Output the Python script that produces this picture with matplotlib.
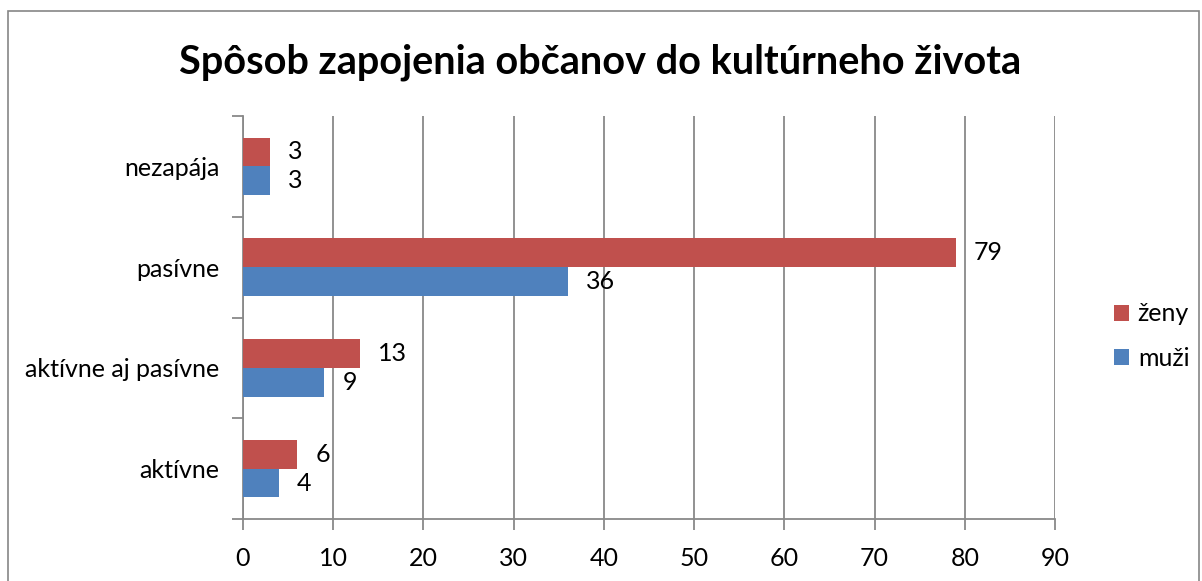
import numpy as np
import matplotlib.pyplot as plt
from matplotlib.patches import Rectangle

plt.rcParams['font.family'] = ['Lato', 'DejaVu Sans']

kategorie = ['aktívne', 'aktívne aj pasívne', 'pasívne', 'nezapája']
zeny = [6, 13, 79, 3]
muzi = [4, 9, 36, 3]
x_ticks = [0, 10, 20, 30, 40, 50, 60, 70, 80, 90]

red = '#C0504D'
blue = '#4F81BD'
grid_col = '#898989'

W, H = 1202, 581
fig = plt.figure(figsize=(W / 100, H / 100), dpi=100)
ax = fig.add_axes([243 / W, 62 / H, (1055 - 243) / W, (519 - 116) / H])

y = np.arange(len(kategorie))
h = 0.286
b_z = ax.barh(y + h / 2, zeny, height=h, color=red, label='ženy', zorder=3)
b_m = ax.barh(y - h / 2, muzi, height=h, color=blue, label='muži', zorder=3)

# popisky hodnot
for bars, vals in [(b_z, zeny), (b_m, muzi)]:
    for r, v in zip(bars, vals):
        ax.annotate(str(v), (v, r.get_y() + r.get_height() / 2),
                    xytext=(13, 0), textcoords='offset points',
                    va='center', ha='left', fontsize=18)

ax.set_xlim(0, 90)
ax.set_ylim(-0.5, 3.5)
ax.set_xticks(x_ticks)
ax.set_xticklabels([str(t) for t in x_ticks], fontsize=18)
ax.set_yticks(y)
ax.set_yticklabels(kategorie, fontsize=18)
ax.set_yticks(np.arange(-0.5, 4, 1), minor=True)
ax.tick_params(axis='y', which='major', length=0, pad=17)
ax.tick_params(axis='y', which='minor', length=8, color=grid_col, width=1.3)
ax.tick_params(axis='x', length=8, color=grid_col, width=1.3, pad=12)

ax.grid(axis='x', color=grid_col, linewidth=1.3, zorder=0)
for s in ['top', 'right']:
    ax.spines[s].set_visible(False)
for s in ['left', 'bottom']:
    ax.spines[s].set_color(grid_col)
    ax.spines[s].set_linewidth(1.3)

fig.text(600 / W, 1 - 62 / H, 'Spôsob zapojenia občanov do kultúrneho života',
         ha='center', va='center', fontsize=28.5, fontweight='bold')

leg = fig.legend(handles=[b_z, b_m], loc='center left',
                 bbox_to_anchor=(1114 / W, 1 - 336 / H), frameon=False,
                 fontsize=18, handlelength=0.6, handleheight=0.6,
                 handletextpad=0.35, labelspacing=0.85,
                 borderpad=0, borderaxespad=0)

fig.patches.append(Rectangle((8 / W, -0.01), (1199 - 8) / W, 1.01 - 11 / H,
                             transform=fig.transFigure, fill=False,
                             edgecolor='#868686', linewidth=1.2))

fig.savefig('out.png', dpi=100)
